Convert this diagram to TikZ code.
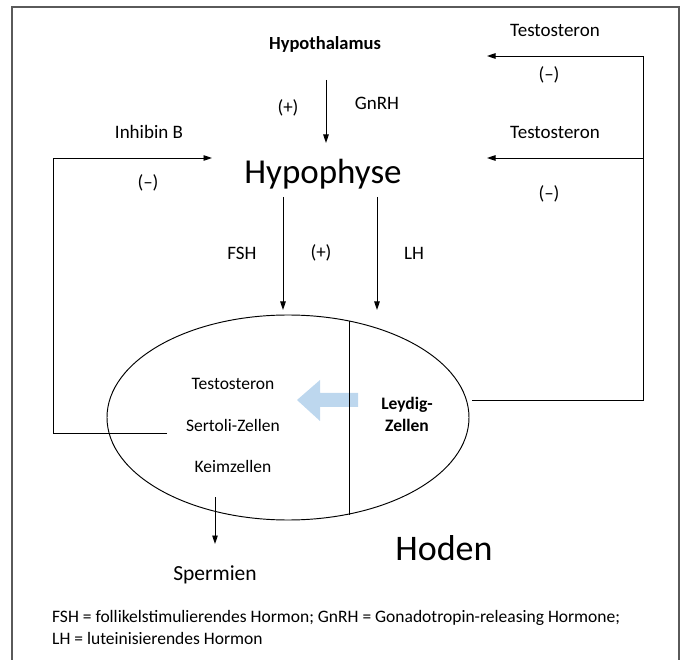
\documentclass[tikz,border=0pt]{standalone}
\usepackage{fontspec}
\setmainfont{Carlito}
\usetikzlibrary{arrows.meta,shapes.geometric}
\definecolor{framegray}{HTML}{5A5A5A}
\definecolor{lightblue}{HTML}{BDD7EE}
\tikzset{
  lbl/.style={inner sep=0pt,font=\fontsize{19}{21}\selectfont},
  inlbl/.style={inner sep=0pt,font=\fontsize{17.5}{19}\selectfont},
  biglbl/.style={inner sep=0pt,font=\fontsize{35}{38}\selectfont},
  conn/.style={line width=0.95pt,black},
  arr/.style={conn,-{Triangle[length=8.5pt,width=5.5pt]}},
}
\begin{document}
\begin{tikzpicture}[x=1pt,y=-1pt]
\useasboundingbox (0,0) rectangle (686,660);
\draw[framegray,line width=2pt] (12,662) -- (12,7) -- (679,7) -- (679,662);

% texts
\node[lbl,font=\fontsize{18.5}{20}\selectfont\bfseries] (hypothal) at (325,44) {Hypothalamus};
\node[lbl] (plusA) at (288,108) {(+)};
\node[lbl] (gnrh) at (377,103) {GnRH};
\node[lbl] (testoA) at (555,30) {Testosteron};
\node[lbl] (minusA) at (549,75) {(--)};
\node[lbl] (testoB) at (555,132) {Testosteron};
\node[lbl] (inhib) at (149,132) {Inhibin B};
\node[lbl] (minusL) at (148,183) {(--)};
\node[lbl] (minusB) at (549,194) {(--)};
\node[biglbl] (hypoph) at (323,174) {Hypophyse};
\node[lbl] (fsh) at (242,253) {FSH};
\node[lbl] (plusB) at (321,253) {(+)};
\node[lbl] (lh) at (414,253) {LH};

% testis
\node[draw,conn,ellipse,minimum width=362pt,minimum height=205pt,inner sep=0pt] (hoden) at (288,417.5) {};
\fill[lightblue] (358,393) -- (320,393) -- (320,380) -- (297,400) -- (320,421) -- (320,407) -- (358,407) -- cycle;
\coordinate (divT) at (349,321.5);
\coordinate (divB) at (349,514.5);
\draw[conn] (divT) -- (divB);
\node[inlbl] (testoIn) at (233,384) {Testosteron};
\node[inlbl] (sertoli) at (233,425) {Sertoli-Zellen};
\node[inlbl] (keim) at (233,466) {Keimzellen};
\node[inlbl,font=\fontsize{17.5}{22}\selectfont\bfseries,align=center] (leydig) at (407,414) {Leydig-\\Zellen};
\node[inner sep=0pt,font=\fontsize{36}{38}\selectfont] (hodenlbl) at (444,548) {Hoden};
\node[inner sep=0pt,font=\fontsize{21.5}{24}\selectfont] (sperm) at (215,575) {Spermien};
\node[inner sep=0pt,font=\fontsize{17.5}{22.5}\selectfont,align=left,anchor=north west] (footer) at (52,610) {FSH = follikelstimulierendes Hormon; GnRH = Gonadotropin-releasing Hormone;\\LH = luteinisierendes Hormon};

% connectors
\coordinate (gnrhS) at (326,80);
\coordinate (gnrhE) at (326,143);
\draw[arr] (gnrhS) -- (gnrhE);
\coordinate (fshS) at (283,197);
\coordinate (fshE) at (283,310);
\draw[arr] (fshS) -- (fshE);
\coordinate (lhS) at (377,197);
\coordinate (lhE) at (377,310);
\draw[arr] (lhS) -- (lhE);
\coordinate (rOut) at (472,400);
\coordinate (rCorner) at (643,400);
\coordinate (rTop) at (643,56);
\coordinate (rMid) at (643,158);
\coordinate (tipA) at (487,56);
\coordinate (tipB) at (487,158);
\draw[conn] (rOut) -- (rCorner) -- (rTop);
\draw[arr] (rTop) -- (tipA);
\draw[arr] (rMid) -- (tipB);
\coordinate (lOut) at (167,433);
\coordinate (lCorner) at (53,433);
\coordinate (lTop) at (53,158);
\coordinate (tipL) at (212,158);
\draw[conn] (lOut) -- (lCorner) -- (lTop);
\draw[arr] (lTop) -- (tipL);
\coordinate (spS) at (215,497);
\coordinate (spE) at (215,544);
\draw[arr] (spS) -- (spE);
\end{tikzpicture}
\end{document}
